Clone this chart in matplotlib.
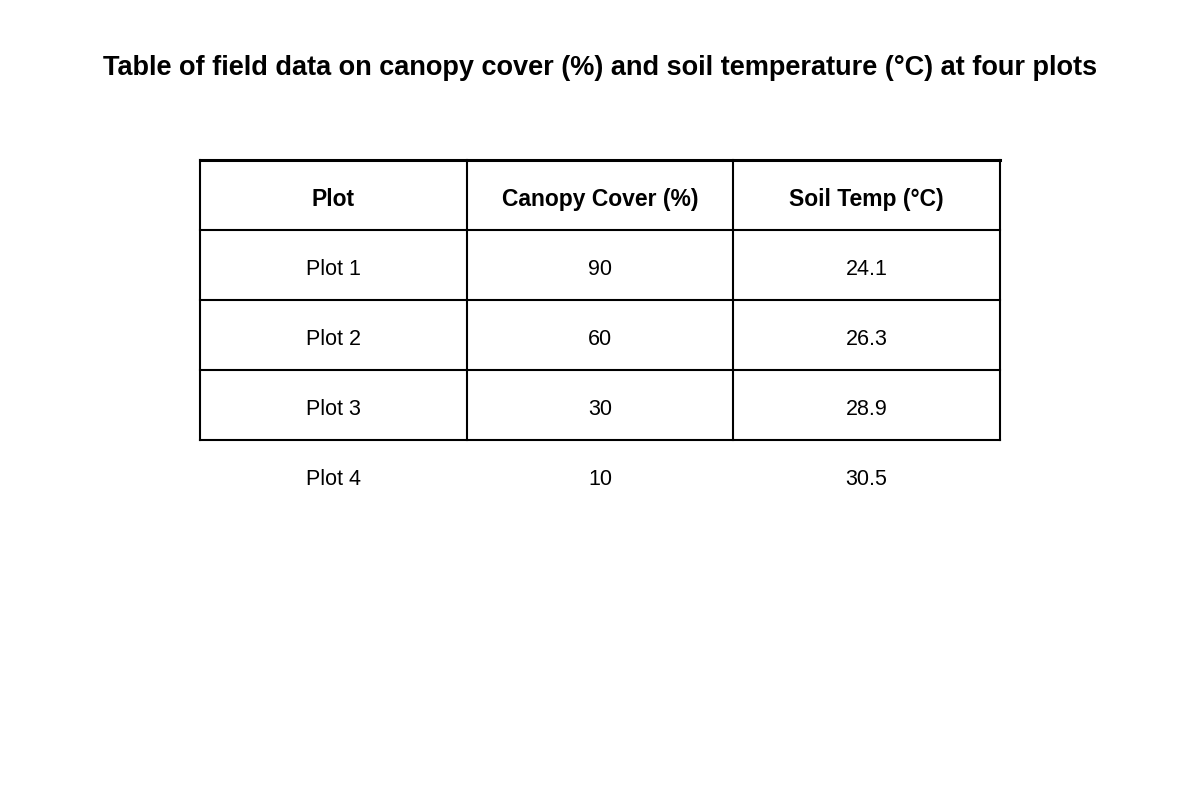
import matplotlib
matplotlib.use("Agg")
import matplotlib.pyplot as plt
from matplotlib import font_manager as fm
import os

title = "Table of field data on canopy cover (%) and soil temperature (°C) at four plots"
columns = ["Plot", "Canopy Cover (%)", "Soil Temp (°C)"]
plots = ["Plot 1", "Plot 2", "Plot 3", "Plot 4"]
canopy = [90, 60, 30, 10]
soil_temp = [24.1, 26.3, 28.9, 30.5]

reg = bold = None
for f in fm.findSystemFonts():
    b = os.path.basename(f)
    if b == "LiberationSans-Regular.ttf":
        reg = f
    elif b == "LiberationSans-Bold.ttf":
        bold = f

def fp(size, isbold=False):
    path = bold if isbold else reg
    if path:
        return fm.FontProperties(fname=path, size=size)
    return fm.FontProperties(family="Liberation Sans", size=size, weight='bold' if isbold else 'normal')

fig = plt.figure(figsize=(12, 8), dpi=100)
ax = fig.add_axes([0, 0, 1, 1])
ax.set_xlim(0, 1200)
ax.set_ylim(800, 0)
ax.axis('off')

ax.text(600, 68, title, ha='center', va='center', fontproperties=fp(19.5, True), clip_on=False)

x0, x1 = 200, 1000
colw = (x1 - x0) / 3
top, rowh = 160, 70
bordered_rows = 4
bottom = top + rowh * bordered_rows

ax.plot([x0, x1], [top, top], color='black', lw=2.2)
for i in range(1, bordered_rows + 1):
    ax.plot([x0, x1], [top + i * rowh] * 2, color='black', lw=1.5)
for j in range(4):
    ax.plot([x0 + j * colw] * 2, [top, bottom], color='black', lw=1.5)

for j, c in enumerate(columns):
    ax.text(x0 + (j + 0.5) * colw, top + rowh * 0.57, c, ha='center', va='center',
            fontproperties=fp(16.5, True))
for i, (p, c, s) in enumerate(zip(plots, canopy, soil_temp)):
    y = top + (i + 1) * rowh + rowh * 0.57
    for j, v in enumerate([p, str(c), f"{s:.1f}"]):
        ax.text(x0 + (j + 0.5) * colw, y, v, ha='center', va='center', fontproperties=fp(15.5))

fig.savefig("out.png", dpi=100)
